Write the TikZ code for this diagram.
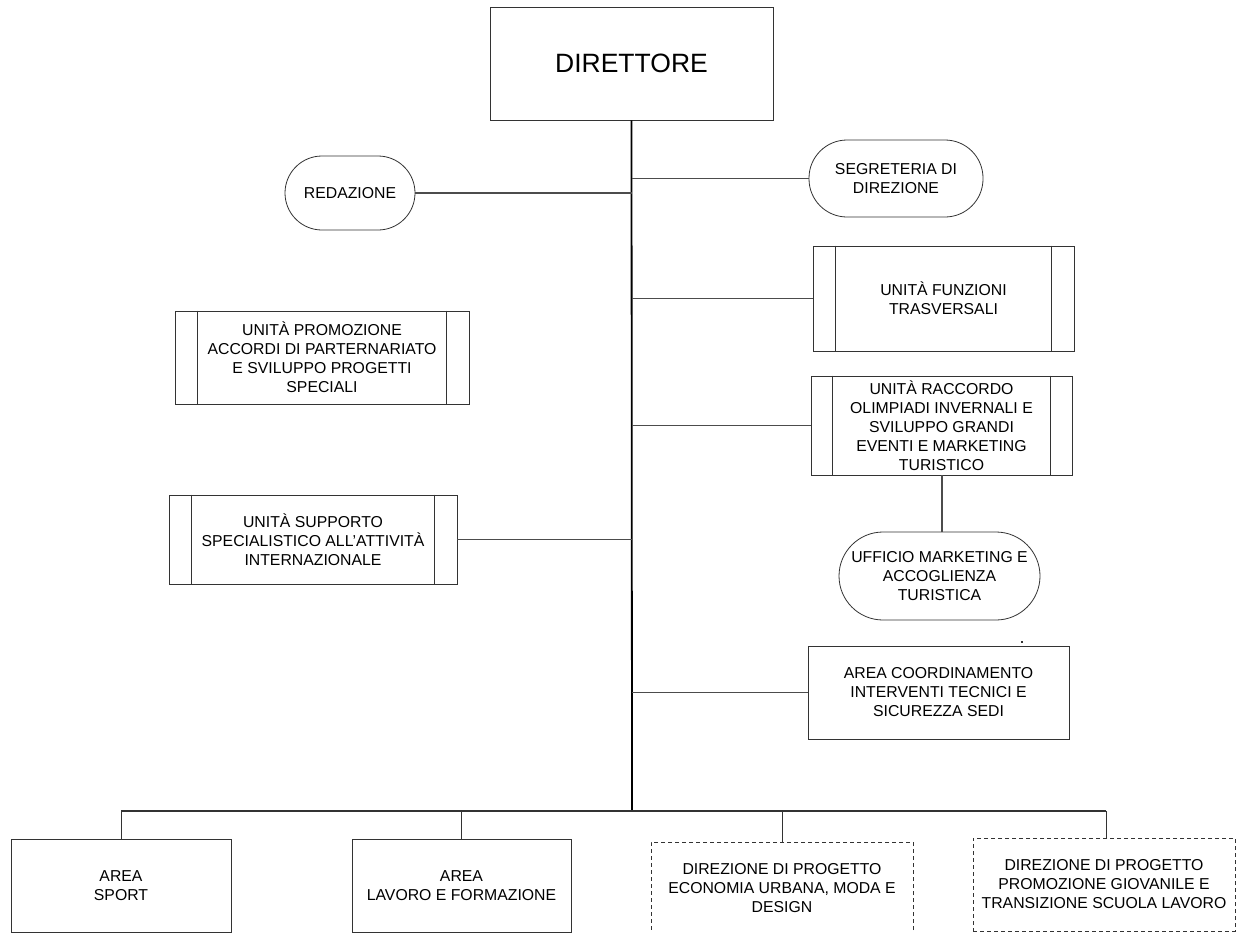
\documentclass[tikz,border=0pt]{standalone}
\usepackage{fontspec}
\setmainfont{Liberation Sans}
\begin{document}
\begin{tikzpicture}[x=1pt,y=-1pt,
  box/.style={draw=black!80, line width=0.8pt, align=center, inner sep=0pt,
    font=\fontsize{15.8}{19}\selectfont},
  stadium/.style={box, rounded corners=#1},
  dbox/.style={box, dash pattern=on 4pt off 3pt},
  conn/.style={draw=black!70, line width=1.1pt},
  trunk/.style={draw=black, line width=1.8pt},
  bar/.style={draw=black!80, line width=0.8pt}]
\useasboundingbox (0,0) rectangle (1236,932);
\fill[white] (0,0) rectangle (1236,932);

% Director
\node[box, minimum width=283pt, minimum height=113pt, font=\fontsize{26.5}{30}\selectfont] (dir) at (631.5,63.5) {DIRETTORE};

% staff units
\node[stadium=37pt, minimum width=130pt, minimum height=74pt] (red) at (350,193) {REDAZIONE};
\node[stadium=38pt, minimum width=174pt, minimum height=77pt] (seg) at (896,178.5) {SEGRETERIA DI\\DIREZIONE};
\node[box, minimum width=261pt, minimum height=105pt] (fun) at (943.5,298.5) {UNITÀ FUNZIONI\\TRASVERSALI};
\node[box, minimum width=294pt, minimum height=93pt] (pro) at (322,357.5) {UNITÀ PROMOZIONE\\ACCORDI DI PARTERNARIATO\\E SVILUPPO PROGETTI\\SPECIALI};
\node[box, minimum width=261pt, minimum height=99pt] (rac) at (941.5,425.5) {UNITÀ RACCORDO\\OLIMPIADI INVERNALI E\\SVILUPPO GRANDI\\EVENTI E MARKETING\\TURISTICO};
\node[box, minimum width=288pt, minimum height=89pt] (sup) at (313,539.5) {UNITÀ SUPPORTO\\SPECIALISTICO ALL’ATTIVITÀ\\INTERNAZIONALE};
\node[stadium=44pt, minimum width=201pt, minimum height=88pt] (uff) at (939.5,576) {UFFICIO MARKETING E\\ACCOGLIENZA\\TURISTICA};
\node[box, minimum width=261pt, minimum height=93pt] (coo) at (938.5,692.5) {AREA COORDINAMENTO\\INTERVENTI TECNICI E\\SICUREZZA SEDI};

% inner bars of the double-bar boxes
\foreach \n/\d in {fun/23, pro/23, rac/22, sup/23}{
  \draw[bar] ([xshift=\d pt]\n.north west) -- ([xshift=\d pt]\n.south west);
  \draw[bar] ([xshift=-\d pt]\n.north east) -- ([xshift=-\d pt]\n.south east);
}

% bottom units
\node[box, minimum width=220pt, minimum height=93pt] (spo) at (121,885.5) {AREA\\SPORT};
\node[box, minimum width=219pt, minimum height=93pt] (lav) at (461.5,885.5) {AREA\\LAVORO E FORMAZIONE};
\node[dbox, minimum width=262pt, minimum height=92pt] (eco) at (782,888) {DIREZIONE DI PROGETTO\\ECONOMIA URBANA, MODA E\\DESIGN};
\node[dbox, minimum width=262pt, minimum height=93pt] (gio) at (1104,884.5) {DIREZIONE DI PROGETTO\\PROMOZIONE GIOVANILE E\\TRANSIZIONE SCUOLA LAVORO};

% trunk and bus
\coordinate (tb) at (632,811);
\coordinate (b1) at (121,811);
\coordinate (b2) at (461,811);
\coordinate (b3) at (782,811);
\coordinate (b4) at (1106,811);
\draw[trunk] (dir.south) -- (tb);

\draw[conn] (red.east) -- (red.east -| tb);
\draw[conn] (seg.west) -- (seg.west -| tb);
\draw[conn] (fun.west) -- (fun.west -| tb);
\draw[conn] (rac.west) -- (rac.west -| tb);
\draw[conn] (sup.east) -- (sup.east -| tb);
\draw[conn] (coo.west) -- (coo.west -| tb);
\coordinate (ru) at (942,475);
\draw[conn] (rac.south -| ru) -- (uff.north -| ru);

\draw[draw=black!80, line width=1.1pt] (b1) -- (b4);
\draw[draw=black!80, line width=0.9pt] (b1) -- (spo.north);
\draw[draw=black!80, line width=0.9pt] (b2) -- (b2 |- lav.north);
\draw[draw=black!80, line width=0.9pt] (b3) -- (eco.north);
\draw[draw=black!80, line width=0.9pt] (b4) -- (b4 |- gio.north);

% small dot
\fill[black!80] (1021.2,641.2) rectangle (1022.8,642.8);
\end{tikzpicture}
\end{document}
